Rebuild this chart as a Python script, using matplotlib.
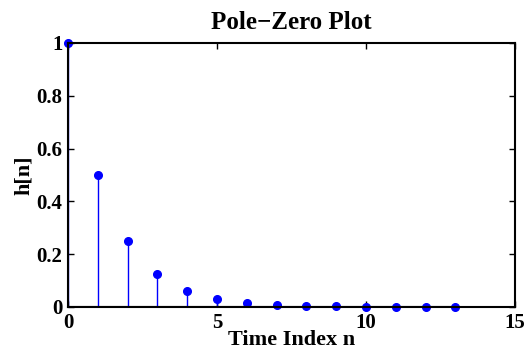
import matplotlib.pyplot as plt

n = [0, 1, 2, 3, 4, 5, 6, 7, 8, 9, 10, 11, 12, 13]
h = [1.0, 0.5, 0.25, 0.125, 0.0625, 0.03125, 0.015625, 0.0078125,
     0.00390625, 0.001953125, 0.0009765625, 0.00048828125,
     0.000244140625, 0.0001220703125]
xticks = [0, 5, 10, 15]
yticks = [0, 0.2, 0.4, 0.6, 0.8, 1]
ylabels = ["0", "0.2", "0.4", "0.6", "0.8", "1"]

plt.rcParams['font.family'] = ['Liberation Serif', 'DejaVu Serif']
plt.rcParams['font.weight'] = 'bold'

fig = plt.figure(figsize=(5.27, 3.58), dpi=100)
ax = fig.add_axes([68/527, 1 - 307/358, (515-68)/527, (307-43)/358])

markerline, stemlines, baseline = ax.stem(n, h, linefmt='b-', markerfmt='bo', basefmt='k-')
markerline.set_markersize(5.5)
markerline.set_clip_on(False)
stemlines.set_linewidth(1.0)
baseline.set_linewidth(1.5)

ax.set_xlim(0, 15)
ax.set_ylim(0, 1)
ax.set_xticks(xticks)
ax.set_yticks(yticks)
ax.set_yticklabels(ylabels)
# MATLAB-style ticks: inward, on all four sides
ax.tick_params(direction='in', labelsize=15, width=1, length=4, pad=4,
               top=True, right=True)
for s in ax.spines.values():
    s.set_linewidth(1.5)

ax.set_title('Pole\u2212Zero Plot', fontsize=18, fontweight='bold', pad=10)
ax.set_xlabel('Time Index n', fontsize=16, fontweight='bold', labelpad=-2)
ax.set_ylabel('h[n]', fontsize=16, fontweight='bold', labelpad=2)

fig.savefig('out.png', dpi=100)
